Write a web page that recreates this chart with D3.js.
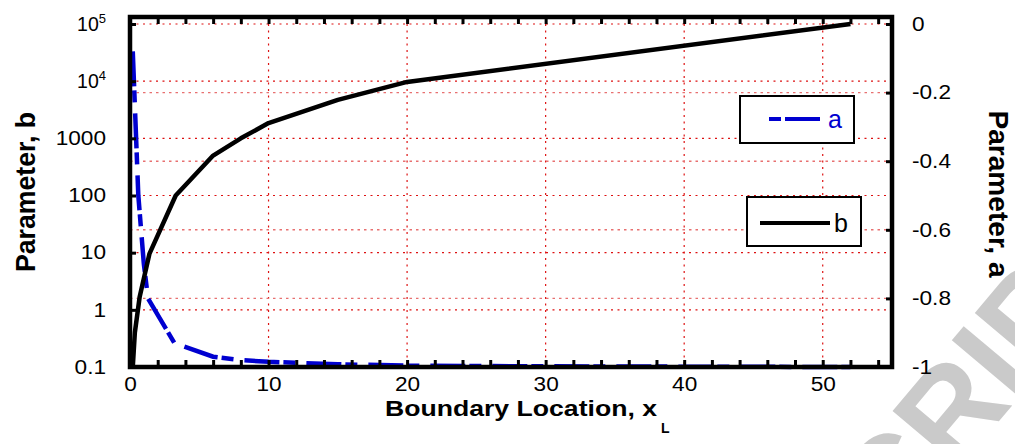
<!DOCTYPE html>
<html>
<head>
<meta charset="utf-8">
<script src="https://cdn.jsdelivr.net/npm/d3@7"></script>
<style>
  body { margin: 0; background: #fff; }
  text { font-family: "Liberation Sans", Arial, sans-serif; }
</style>
</head>
<body>
<div id="chart"></div>
<script>
// boundary location x_L and the fitted parameters
var xB = [0.2, 0.35, 0.7, 1.4, 3.3, 6, 8, 10, 15, 20, 52]
var paramB = [0.1, 0.4, 1.7, 9.5, 100, 500, 1000, 1850, 4700, 9700, 100000]

var xA = [0.2, 0.6, 1.0, 1.3, 3.2, 6, 8, 10, 15, 20, 30, 40, 52]
var paramA = [-0.08, -0.5, -0.7, -0.8, -0.93, -0.97, -0.98, -0.985, -0.992, -0.996, -0.998, -0.999, -1]

var xTicks = [0, 10, 20, 30, 40, 50]
var bTicks = [0.1, 1, 10, 100, 1000, 1e4, 1e5]
var bTickLabels = ["0.1", "1", "10", "100", "1000", ["10", "4"], ["10", "5"]]
var aTicks = [-1, -0.8, -0.6, -0.4, -0.2, 0]
var aTickLabels = ["-1", "-0.8", "-0.6", "-0.4", "-0.2", "0"]

var W = 1015, H = 444
var svg = d3.select("#chart").append("svg")
    .attr("width", W)
    .attr("height", H)

var x = d3.scaleLinear().domain([0, 55]).range([130, 892])
var yb = d3.scaleLog().domain([0.1, 1e5]).range([367, 24])
var ya = d3.scaleLinear().domain([-1, 0]).range([367, 24])

// stretch text a little wider, the original is wider than Liberation Sans
function widen(sel, k) {
    sel.each(function() {
        var w = this.getComputedTextLength()
        this.setAttribute("textLength", w * k)
        this.setAttribute("lengthAdjust", "spacingAndGlyphs")
    })
}

// watermark behind everything
svg.append("text")
    .attr("transform", "translate(895,545) rotate(-50)")
    .attr("font-size", 128)
    .attr("font-weight", "bold")
    .attr("fill", "#cacaca")
    .text("CRIPT")

// grid
var grid = svg.append("g")
grid.selectAll("line.gx")
    .data(xTicks.filter(d => d > 0))
    .join("line")
    .attr("class", "gx")
    .attr("x1", d => x(d)).attr("x2", d => x(d))
    .attr("y1", 24).attr("y2", 367)
    .attr("stroke", "#dd1111")
    .attr("stroke-width", 1.2)
    .attr("stroke-dasharray", "2,4.5")

grid.selectAll("line.gb")
    .data(bTicks.slice(1))
    .join("line")
    .attr("class", "gb")
    .attr("x1", 130).attr("x2", 892)
    .attr("y1", d => yb(d)).attr("y2", d => yb(d))
    .attr("stroke", "#dd1111")
    .attr("stroke-width", 1.2)
    .attr("stroke-dasharray", "2,4.5")

grid.selectAll("line.ga")
    .data(aTicks.slice(1, -1))
    .join("line")
    .attr("class", "ga")
    .attr("x1", 130).attr("x2", 892)
    .attr("y1", d => ya(d)).attr("y2", d => ya(d))
    .attr("stroke", "#e87070")
    .attr("stroke-width", 1.4)
    .attr("stroke-dasharray", "2.5,4")

// curves
var lineB = d3.line().x((d, i) => x(xB[i])).y(d => yb(d))
var lineA = d3.line().x((d, i) => x(xA[i])).y(d => ya(d))

svg.append("path")
    .datum(paramA)
    .attr("d", lineA)
    .attr("fill", "none")
    .attr("stroke", "#0000d0")
    .attr("stroke-width", 4.5)
    .attr("stroke-dasharray", "35,4,12,11")

svg.append("path")
    .datum(paramB)
    .attr("d", lineB)
    .attr("fill", "none")
    .attr("stroke", "#000")
    .attr("stroke-width", 4.5)
    .attr("stroke-linejoin", "round")

// axes, ticks pointing inwards
var minor = d3.range(0, 56, 2)

var bottomAxis = svg.append("g")
    .attr("transform", "translate(0,367)")
    .call(d3.axisBottom(x).tickValues(minor).tickSize(-7).tickPadding(10)
        .tickFormat(d => d % 10 == 0 ? d : ""))

var topAxis = svg.append("g")
    .attr("transform", "translate(0,17)")
    .call(d3.axisTop(x).tickValues(minor).tickSize(-7).tickFormat(""))

var leftAxis = svg.append("g")
    .attr("transform", "translate(130,0)")
    .call(d3.axisLeft(yb).tickValues(bTicks).tickSize(-6).tickPadding(24)
        .tickFormat(""))

var rightAxis = svg.append("g")
    .attr("transform", "translate(892,0)")
    .call(d3.axisRight(ya).tickValues(aTicks).tickSize(-6).tickPadding(20)
        .tickFormat((d, i) => aTickLabels[i]))

;[bottomAxis, topAxis, leftAxis, rightAxis].forEach(g => {
    g.select(".domain").remove()
    g.selectAll(".tick line").attr("stroke", "#000").attr("stroke-width", 3)
    g.selectAll("text").attr("font-size", 19.5).attr("fill", "#000")
        .attr("font-family", "Liberation Sans, Arial, sans-serif")
})

// left tick labels, with superscripts for the powers
leftAxis.selectAll(".tick text").each(function(d, i) {
    var lab = bTickLabels[i]
    var t = d3.select(this)
    if (Array.isArray(lab)) {
        t.text(lab[0])
        t.append("tspan").attr("dy", "-0.6em").attr("font-size", 13).text(lab[1])
    } else {
        t.text(lab)
        widen(t, 1.16)
    }
})
widen(bottomAxis.selectAll(".tick text").filter(function() { return this.textContent != "" }), 1.16)
widen(rightAxis.selectAll(".tick text"), 1.16)

// frame
svg.append("rect")
    .attr("x", 130).attr("y", 17)
    .attr("width", 762).attr("height", 350)
    .attr("fill", "none")
    .attr("stroke", "#000")
    .attr("stroke-width", 4.5)

// axis titles
svg.append("text")
    .attr("x", 385).attr("y", 416)
    .attr("font-size", 21.5)
    .attr("font-weight", "bold")
    .attr("textLength", 272)
    .attr("lengthAdjust", "spacingAndGlyphs")
    .text("Boundary Location, x")
svg.append("text")
    .attr("x", 661).attr("y", 433)
    .attr("font-size", 14)
    .attr("font-weight", "bold")
    .text("L")

svg.append("text")
    .attr("transform", "translate(35,192) rotate(-90)")
    .attr("text-anchor", "middle")
    .attr("font-size", 27)
    .attr("font-weight", "bold")
    .attr("textLength", 160)
    .attr("lengthAdjust", "spacingAndGlyphs")
    .text("Parameter, b")

svg.append("text")
    .attr("transform", "translate(989,194) rotate(90)")
    .attr("text-anchor", "middle")
    .attr("font-size", 27)
    .attr("font-weight", "bold")
    .attr("textLength", 167)
    .attr("lengthAdjust", "spacingAndGlyphs")
    .text("Parameter, a")

// legends
var legA = svg.append("g")
legA.append("rect")
    .attr("x", 740).attr("y", 96).attr("width", 114).attr("height", 47)
    .attr("fill", "#fff").attr("stroke", "#000").attr("stroke-width", 2)
legA.append("line")
    .attr("x1", 769).attr("x2", 820).attr("y1", 119).attr("y2", 119)
    .attr("stroke", "#0000d0").attr("stroke-width", 4)
    .attr("stroke-dasharray", "12,4,35")
legA.append("text")
    .attr("x", 828).attr("y", 128)
    .attr("font-size", 25).attr("fill", "#0000d0")
    .text("a")

var legB = svg.append("g")
legB.append("rect")
    .attr("x", 747).attr("y", 197).attr("width", 114).attr("height", 49)
    .attr("fill", "#fff").attr("stroke", "#000").attr("stroke-width", 2)
legB.append("line")
    .attr("x1", 760).attr("x2", 830).attr("y1", 223).attr("y2", 223)
    .attr("stroke", "#000").attr("stroke-width", 4)
legB.append("text")
    .attr("x", 834).attr("y", 232)
    .attr("font-size", 25).attr("fill", "#000")
    .text("b")
</script>
</body>
</html>
